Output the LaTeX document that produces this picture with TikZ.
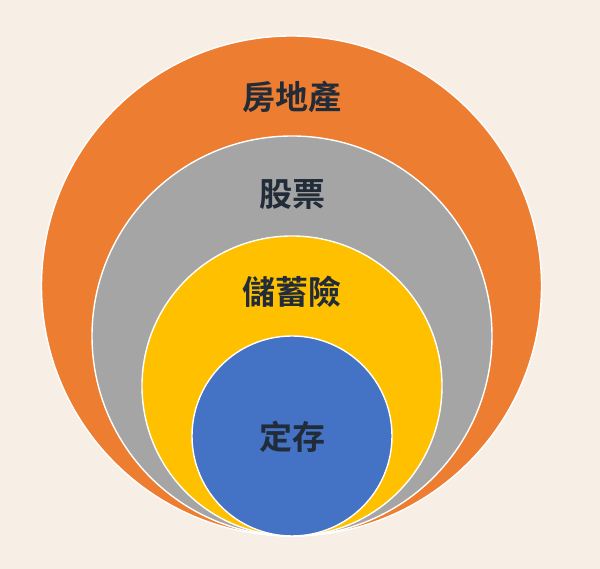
\documentclass[tikz,border=0pt]{standalone}
\usepackage{fontspec}
\newfontfamily\cjk{Noto Sans CJK TC}[BoldFont={Noto Sans CJK TC Bold}]
\usepackage{xcolor}
\usetikzlibrary{positioning}
\definecolor{bgcream}{HTML}{F7EEE6}
\definecolor{ringorange}{HTML}{ED7D31}
\definecolor{ringgray}{HTML}{A5A5A5}
\definecolor{ringyellow}{HTML}{FFC000}
\definecolor{ringblue}{HTML}{4472C4}
\definecolor{labelink}{HTML}{222B38}

\begin{document}
\begin{tikzpicture}[
  x=1pt,y=1pt,
  ring/.style={circle,draw=white,line width=1.4pt,inner sep=0pt},
  lbl/.style={font=\cjk\bfseries\fontsize{33}{36}\selectfont,text=labelink,inner sep=0pt}
]
% background
\fill[bgcream] (0,0) rectangle (600,569);
\useasboundingbox (0,0) rectangle (600,569);
% nested rings, all touching at the bottom
\node[ring,fill=ringorange,minimum size=500pt] (estate) at (291.5,283) {};
\node[ring,fill=ringgray,minimum size=400pt] (stock) at (292,233) {};
\node[ring,fill=ringyellow,minimum size=300pt] (insur) at (292,183) {};
\node[ring,fill=ringblue,minimum size=200pt] (deposit) at (292,133) {};
% labels
\node[lbl] (estatelbl) at (292,472) {房地產};
\node[lbl] (stocklbl) at (292,374) {股票};
\node[lbl] (insurlbl) at (292,277) {儲蓄險};
\node[lbl] (depositlbl) at (292,132) {定存};
\end{tikzpicture}
\end{document}
